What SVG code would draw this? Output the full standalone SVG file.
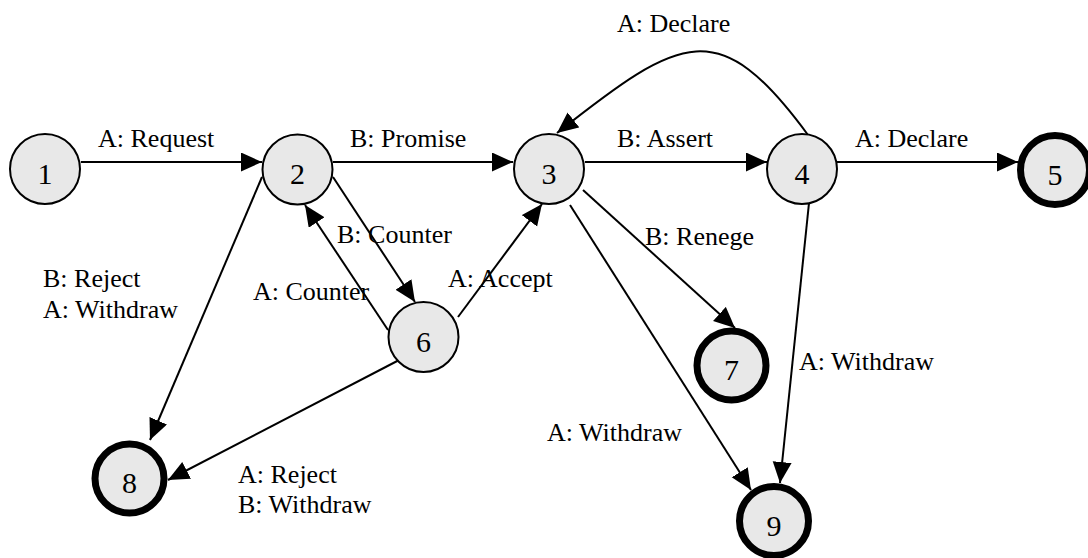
<svg xmlns="http://www.w3.org/2000/svg" width="1088" height="558" viewBox="0 0 1088 558">
  <style>
    .state { fill: #e8e8e8; stroke: #000; stroke-width: 2; }
    .final { fill: #e8e8e8; stroke: #000; stroke-width: 7; }
    .num { font-family: "Liberation Serif", "DejaVu Serif", serif; font-size: 30px; fill: #000; text-anchor: middle; }
    .lbl { font-family: "Liberation Serif", "DejaVu Serif", serif; font-size: 26px; fill: #000; }
    .edge { fill: none; stroke: #000; stroke-width: 2; marker-end: url(#arrow); }
  </style>
  <defs>
    <marker id="arrow" markerUnits="userSpaceOnUse" markerWidth="22" markerHeight="20" refX="21" refY="9.5" orient="auto">
      <path d="M0,0 L21,9.5 L0,19 z" fill="#000"/>
    </marker>
  </defs>
  <rect width="1088" height="558" fill="#fff"/>

  <!-- transitions -->
  <g id="connectors">
    <line class="edge" x1="81" y1="162" x2="262" y2="162"/>
    <line class="edge" x1="333" y1="162" x2="513" y2="162"/>
    <line class="edge" x1="585" y1="162" x2="767" y2="162"/>
    <line class="edge" x1="837" y1="162" x2="1018" y2="162"/>
    <path class="edge" d="M808,135 C719,14 682,34 557,133"/>
    <line class="edge" x1="333" y1="177" x2="415" y2="302"/>
    <line class="edge" x1="388" y1="330" x2="305" y2="205"/>
    <line class="edge" x1="458" y1="317" x2="542" y2="204"/>
    <line class="edge" x1="583" y1="190" x2="735" y2="328"/>
    <line class="edge" x1="570" y1="205" x2="751" y2="490"/>
    <line class="edge" x1="809" y1="203" x2="780" y2="483"/>
    <line class="edge" x1="262" y1="177" x2="150" y2="440"/>
    <line class="edge" x1="403" y1="358" x2="168" y2="480"/>
  </g>

  <!-- transition labels -->
  <g id="labels">
    <text class="lbl" x="98" y="147">A: Request</text>
    <text class="lbl" x="350" y="147">B: Promise</text>
    <text class="lbl" x="617" y="147">B: Assert</text>
    <text class="lbl" x="617" y="32">A: Declare</text>
    <text class="lbl" x="855" y="147">A: Declare</text>
    <text class="lbl" x="337" y="243">B: Counter</text>
    <text class="lbl" x="253" y="300">A: Counter</text>
    <text class="lbl" x="448" y="287">A: Accept</text>
    <text class="lbl" x="645" y="245">B: Renege</text>
    <text class="lbl" x="43" y="287">B: Reject</text>
    <text class="lbl" x="43" y="318">A: Withdraw</text>
    <text class="lbl" x="547" y="441">A: Withdraw</text>
    <text class="lbl" x="799" y="370">A: Withdraw</text>
    <text class="lbl" x="238" y="483">A: Reject</text>
    <text class="lbl" x="238" y="513">B: Withdraw</text>
  </g>

  <!-- states -->
  <g id="node1"><circle class="state" cx="45" cy="169" r="35"/><text class="num" x="45" y="184">1</text></g>
  <g id="node2"><circle class="state" cx="297.5" cy="169.5" r="35"/><text class="num" x="297.5" y="184">2</text></g>
  <g id="node3"><circle class="state" cx="549" cy="169" r="35"/><text class="num" x="549" y="184">3</text></g>
  <g id="node4"><circle class="state" cx="802" cy="169" r="35"/><text class="num" x="802" y="184">4</text></g>
  <g id="node5"><circle class="final" cx="1055" cy="170" r="34.5"/><text class="num" x="1055" y="185">5</text></g>
  <g id="node6"><circle class="state" cx="423.5" cy="337" r="35"/><text class="num" x="423.5" y="352">6</text></g>
  <g id="node7"><circle class="final" cx="731.5" cy="365.5" r="34.5"/><text class="num" x="731.5" y="380">7</text></g>
  <g id="node8"><circle class="final" cx="129.5" cy="478.5" r="34.5"/><text class="num" x="129.5" y="493">8</text></g>
  <g id="node9"><circle class="final" cx="774" cy="521" r="34.5"/><text class="num" x="774" y="536">9</text></g>
</svg>
